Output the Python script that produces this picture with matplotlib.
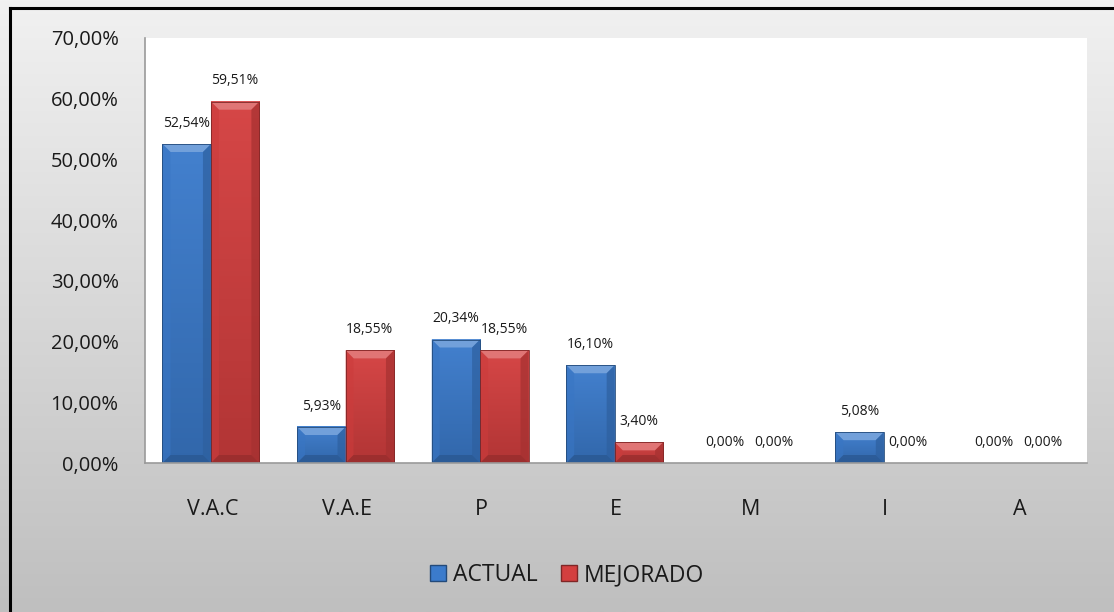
import numpy as np
import matplotlib
matplotlib.use("Agg")
import matplotlib.pyplot as plt
from matplotlib.patches import Polygon, Rectangle
from matplotlib.lines import Line2D
from matplotlib.colors import LinearSegmentedColormap, to_rgb

categories = ["V.A.C", "V.A.E", "P", "E", "M", "I", "A"]
actual = [52.54, 5.93, 20.34, 16.10, 0.00, 5.08, 0.00]
mejorado = [59.51, 18.55, 18.55, 3.40, 0.00, 0.00, 0.00]
series_names = ["ACTUAL", "MEJORADO"]
yticks = [0, 10, 20, 30, 40, 50, 60, 70]

plt.rcParams['font.family'] = ['Open Sans', 'DejaVu Sans']

W, H = 1114, 612
fig = plt.figure(figsize=(W / 100, H / 100), dpi=100)

# background gradient
bg = fig.add_axes([0, 0, 1, 1], zorder=-10)
grad = np.linspace(0, 1, 256).reshape(-1, 1)
cmap_bg = LinearSegmentedColormap.from_list("bg", ["#f1f1f1", "#bfbfbf"])
bg.imshow(grad, aspect="auto", cmap=cmap_bg, extent=[0, 1, 0, 1], origin="upper")
bg.set_xlim(0, 1)
bg.set_ylim(0, 1)
bg.axis("off")
bg.add_line(Line2D([10 / W, 10 / W], [0, 1 - 8 / H], color="black", lw=2.2))
bg.add_line(Line2D([10 / W, 1], [1 - 8 / H, 1 - 8 / H], color="black", lw=2.2))

ax = fig.add_axes([145 / W, (H - 463) / H, (1087 - 145) / W, (463 - 38) / H])
ax.set_facecolor("white")

x = np.arange(len(categories))
w = 0.36
blue = "#3b7bcc"
red = "#d43f3f"
b1 = ax.bar(x - w / 2 - 0.01, actual, w, color=blue, zorder=2)
b2 = ax.bar(x + w / 2 - 0.01, mejorado, w, color=red, zorder=2)

ax.set_xlim(-0.5, len(categories) - 0.5)
ax.set_ylim(0, 70)

fig.canvas.draw()
px_x = (ax.get_xlim()[1] - ax.get_xlim()[0]) / (ax.bbox.width)
px_y = (ax.get_ylim()[1] - ax.get_ylim()[0]) / (ax.bbox.height)

def shade(c, f):
    r, g, b = to_rgb(c)
    if f >= 0:
        return (r + (1 - r) * f, g + (1 - g) * f, b + (1 - b) * f)
    return (r * (1 + f), g * (1 + f), b * (1 + f))

for bars, col in ((b1, blue), (b2, red)):
    for p in bars:
        h = p.get_height()
        if h <= 0:
            continue
        x0, wd = p.get_x(), p.get_width()
        bx = 8 * px_x
        by = min(8 * px_y, h / 2)
        # body: smooth vertical gradient, slightly darker to the bottom
        cm = LinearSegmentedColormap.from_list("c", [shade(col, 0.04), shade(col, -0.16)])
        g = np.linspace(0, 1, 64).reshape(-1, 1)
        ax.imshow(g, aspect="auto", cmap=cm, extent=[x0, x0 + wd, 0, h], origin="upper", zorder=2.1)
        # top bevel (light)
        ax.add_patch(Polygon([[x0, h], [x0 + wd, h], [x0 + wd - bx, h - by], [x0 + bx, h - by]],
                             closed=True, facecolor=shade(col, 0.28), edgecolor="none", zorder=2.2))
        # side bevels
        ax.add_patch(Polygon([[x0, h], [x0 + bx, h - by], [x0 + bx, by], [x0, 0]],
                             closed=True, facecolor=shade(col, -0.04), edgecolor="none", zorder=2.2, alpha=0.6))
        ax.add_patch(Polygon([[x0 + wd, h], [x0 + wd - bx, h - by], [x0 + wd - bx, by], [x0 + wd, 0]],
                             closed=True, facecolor=shade(col, -0.22), edgecolor="none", zorder=2.2, alpha=0.7))
        # bottom bevel
        ax.add_patch(Polygon([[x0, 0], [x0 + wd, 0], [x0 + wd - bx, by], [x0 + bx, by]],
                             closed=True, facecolor=shade(col, -0.3), edgecolor="none", zorder=2.2, alpha=0.7))
        ax.add_patch(Rectangle((x0, 0), wd, h, facecolor="none", edgecolor=shade(col, -0.4), lw=0.6, zorder=2.3))

ax.set_xlim(-0.5, len(categories) - 0.5)
ax.set_ylim(0, 70)

def fmt(v):
    return f"{v:.2f}".replace(".", ",") + "%"

for bars, vals in ((b1, actual), (b2, mejorado)):
    for p, v in zip(bars, vals):
        ax.annotate(fmt(v), (p.get_x() + p.get_width() / 2, p.get_height()),
                    xytext=(0, 15), textcoords="offset points", ha="center", va="center",
                    fontsize=10, color="#1a1a1a", zorder=5)

ax.set_yticks(yticks)
ax.set_yticklabels([fmt(v) for v in yticks], fontsize=14.5, color="#1a1a1a")
ax.set_xticks(x)
ax.set_xticklabels(categories, fontsize=15.5, color="#1a1a1a")
ax.tick_params(axis="y", length=0, pad=19)
ax.tick_params(axis="x", length=0, pad=26)
for s in ("top", "right"):
    ax.spines[s].set_visible(False)
for s in ("left", "bottom"):
    ax.spines[s].set_color("#9a9a9a")
    ax.spines[s].set_linewidth(1.2)

handles = [Rectangle((0, 0), 1, 1, facecolor=blue, edgecolor=shade(blue, -0.4)),
           Rectangle((0, 0), 1, 1, facecolor=red, edgecolor=shade(red, -0.4))]
fig.legend(handles, series_names, loc="center", bbox_to_anchor=(0.509, 0.06), ncol=2,
           frameon=False, fontsize=16.5, handlelength=0.7, handleheight=0.7,
           handletextpad=0.3, columnspacing=1.0, labelcolor="#1a1a1a")

fig.savefig("out.png", dpi=100)
